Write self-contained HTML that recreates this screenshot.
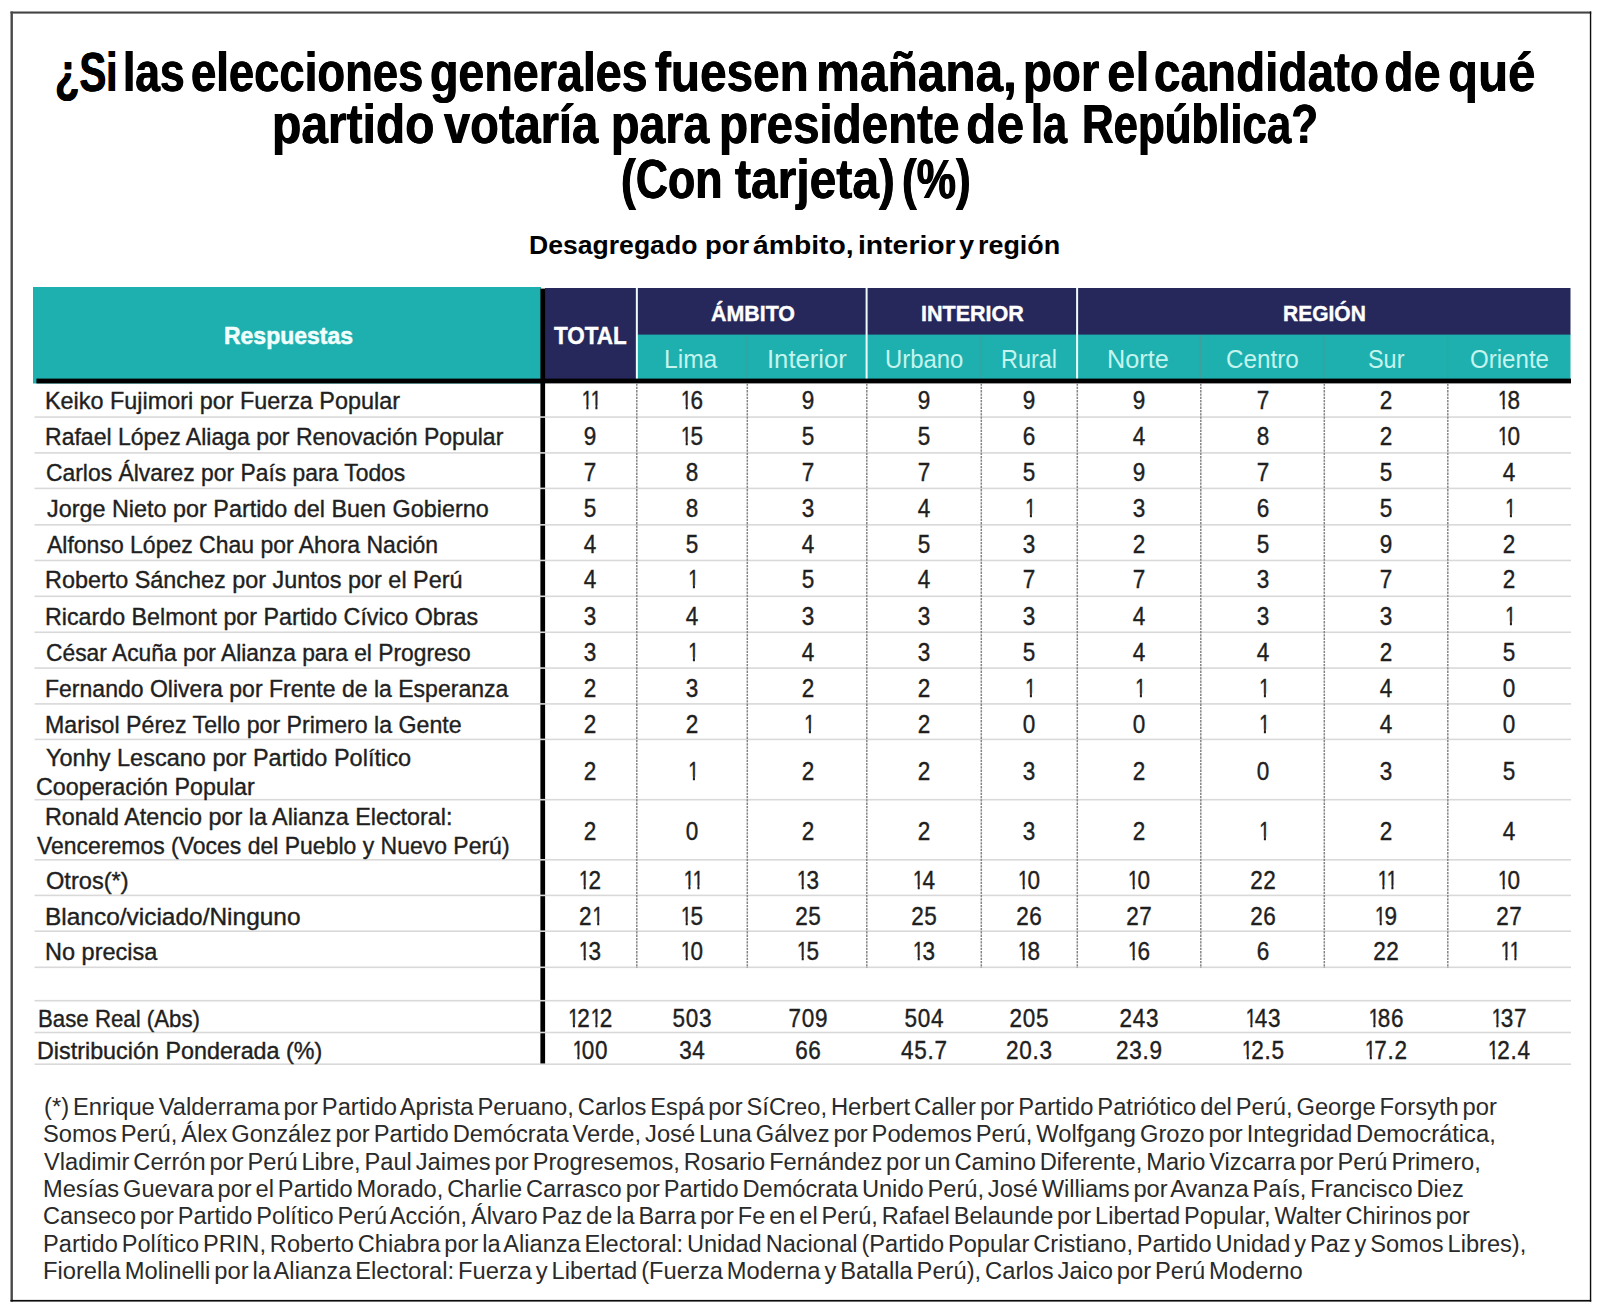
<!DOCTYPE html>
<html lang="es"><head><meta charset="utf-8"><title>Encuesta</title>
<style>
html,body{margin:0;padding:0;background:#fff;}
body{width:1600px;height:1307px;position:relative;overflow:hidden;font-family:"Liberation Sans",sans-serif;}
.t{position:absolute;white-space:nowrap;line-height:1em;transform-origin:0 0;margin:0;}
.r{-webkit-text-stroke:.4px #1f1f1f;}
.n{position:absolute;white-space:nowrap;line-height:1em;font-size:25px;color:#1f1f1f;width:120px;margin-left:-60px;text-align:center;letter-spacing:0.75px;text-indent:0.75px;transform:scaleX(.9);transform-origin:50% 0;-webkit-text-stroke:.4px #1f1f1f;}
.n i{font-style:normal;display:inline-block;clip-path:polygon(0 0,100% 0,100% 71%,62% 71%,62% 100%,44.5% 100%,44.5% 71%,0 71%);transform:scaleX(.85);margin:0 -3.6px 0 -1.4px;}
.b{position:absolute;}
</style></head>
<body>
<svg class="b" style="left:0;top:0" width="1600" height="1307" viewBox="0 0 1600 1307"><rect x="10.5" y="11.5" width="1580.7" height="2.1" fill="#444"/><rect x="10.5" y="11.5" width="2.4" height="1290.1" fill="#484848"/><rect x="1589.85" y="11.5" width="1.4" height="1290.1" fill="#0c0c0c"/><rect x="10.5" y="1299.9" width="1580.7" height="1.7" fill="#0c0c0c"/><rect x="33" y="287" width="508" height="96.5" fill="#1eb0af"/><rect x="545" y="288" width="1025.5" height="47" fill="#26285b"/><rect x="545" y="334" width="91.5" height="45" fill="#26285b"/><rect x="636.5" y="334.6" width="934" height="44.4" fill="#1eb0af"/><rect x="635.85" y="288" width="2" height="91" fill="#eefcfc"/><rect x="865.6" y="288" width="2" height="91" fill="#eefcfc"/><rect x="1076.1" y="288" width="2" height="91" fill="#eefcfc"/><rect x="746.4" y="335.5" width="1.2" height="43.5" fill="#3e9f9d"/><rect x="980.4" y="335.5" width="1.2" height="43.5" fill="#3e9f9d"/><rect x="1199.9" y="335.5" width="1.2" height="43.5" fill="#3e9f9d"/><rect x="1323.4" y="335.5" width="1.2" height="43.5" fill="#3e9f9d"/><rect x="1446.9" y="335.5" width="1.2" height="43.5" fill="#3e9f9d"/><rect x="36.4" y="378.6" width="1534.6" height="4.8" fill="#000"/><rect x="540.4" y="288.6" width="4.7" height="775.8" fill="#000"/><rect x="34.5" y="416.26" width="1536.5" height="1.6" fill="#d9d9d9"/><rect x="34.5" y="452.1" width="1536.5" height="1.6" fill="#d9d9d9"/><rect x="34.5" y="487.6" width="1536.5" height="1.6" fill="#d9d9d9"/><rect x="34.5" y="524.04" width="1536.5" height="1.6" fill="#d9d9d9"/><rect x="34.5" y="559.67" width="1536.5" height="1.6" fill="#d9d9d9"/><rect x="34.5" y="595.5" width="1536.5" height="1.6" fill="#d9d9d9"/><rect x="34.5" y="631.46" width="1536.5" height="1.6" fill="#d9d9d9"/><rect x="34.5" y="667.27" width="1536.5" height="1.6" fill="#d9d9d9"/><rect x="34.5" y="703.1" width="1536.5" height="1.6" fill="#d9d9d9"/><rect x="34.5" y="738.6" width="1536.5" height="1.6" fill="#d9d9d9"/><rect x="34.5" y="798.9" width="1536.5" height="1.6" fill="#d9d9d9"/><rect x="34.5" y="859" width="1536.5" height="1.6" fill="#d9d9d9"/><rect x="34.5" y="894.6" width="1536.5" height="1.6" fill="#d9d9d9"/><rect x="34.5" y="930.4" width="1536.5" height="1.6" fill="#d9d9d9"/><rect x="34.5" y="966.5" width="1536.5" height="1.6" fill="#d9d9d9"/><rect x="34.5" y="999.9" width="1536.5" height="1.6" fill="#d9d9d9"/><rect x="34.5" y="1031.7" width="1536.5" height="1.6" fill="#d9d9d9"/><rect x="34.5" y="1063.4" width="1536.5" height="1.6" fill="#d9d9d9"/><line x1="636.8" y1="383.5" x2="636.8" y2="968" stroke="#858585" stroke-width="1.5" stroke-dasharray="2.3 1"/><line x1="747.3" y1="383.5" x2="747.3" y2="968" stroke="#858585" stroke-width="1.5" stroke-dasharray="2.3 1"/><line x1="866.8" y1="383.5" x2="866.8" y2="968" stroke="#858585" stroke-width="1.5" stroke-dasharray="2.3 1"/><line x1="981.3" y1="383.5" x2="981.3" y2="968" stroke="#858585" stroke-width="1.5" stroke-dasharray="2.3 1"/><line x1="1077.3" y1="383.5" x2="1077.3" y2="968" stroke="#858585" stroke-width="1.5" stroke-dasharray="2.3 1"/><line x1="1200.8" y1="383.5" x2="1200.8" y2="968" stroke="#858585" stroke-width="1.5" stroke-dasharray="2.3 1"/><line x1="1324.3" y1="383.5" x2="1324.3" y2="968" stroke="#858585" stroke-width="1.5" stroke-dasharray="2.3 1"/><line x1="1447.8" y1="383.5" x2="1447.8" y2="968" stroke="#858585" stroke-width="1.5" stroke-dasharray="2.3 1"/></svg>
<header class="title">
<div class="t" style="left:54.77px;top:43.75px;font-size:56px;color:#000;transform:scaleX(0.7153);font-weight:bold;text-shadow:0.72px 0 0 #000,-0.72px 0 0 #000;">¿Si</div>
<div class="t" style="left:123.15px;top:43.75px;font-size:56px;color:#000;transform:scaleX(0.7921);font-weight:bold;text-shadow:0.57px 0 0 #000,-0.57px 0 0 #000;">las</div>
<div class="t" style="left:191.23px;top:43.75px;font-size:56px;color:#000;transform:scaleX(0.8114);font-weight:bold;text-shadow:0.53px 0 0 #000,-0.53px 0 0 #000;">elecciones</div>
<div class="t" style="left:430.09px;top:43.75px;font-size:56px;color:#000;transform:scaleX(0.8321);font-weight:bold;text-shadow:0.49px 0 0 #000,-0.49px 0 0 #000;">generales</div>
<div class="t" style="left:655.43px;top:43.75px;font-size:56px;color:#000;transform:scaleX(0.8520);font-weight:bold;text-shadow:0.45px 0 0 #000,-0.45px 0 0 #000;">fuesen</div>
<div class="t" style="left:816.24px;top:43.75px;font-size:56px;color:#000;transform:scaleX(0.8839);font-weight:bold;text-shadow:0.38px 0 0 #000,-0.38px 0 0 #000;">mañana,</div>
<div class="t" style="left:1023.13px;top:43.75px;font-size:56px;color:#000;transform:scaleX(0.8463);font-weight:bold;text-shadow:0.46px 0 0 #000,-0.46px 0 0 #000;">por</div>
<div class="t" style="left:1107.25px;top:43.75px;font-size:56px;color:#000;transform:scaleX(0.9124);font-weight:bold;text-shadow:0.33px 0 0 #000,-0.33px 0 0 #000;">el</div>
<div class="t" style="left:1153.64px;top:43.75px;font-size:56px;color:#000;transform:scaleX(0.8507);font-weight:bold;text-shadow:0.45px 0 0 #000,-0.45px 0 0 #000;">candidato</div>
<div class="t" style="left:1384.26px;top:43.75px;font-size:56px;color:#000;transform:scaleX(0.8669);font-weight:bold;text-shadow:0.42px 0 0 #000,-0.42px 0 0 #000;">de</div>
<div class="t" style="left:1447.98px;top:43.75px;font-size:56px;color:#000;transform:scaleX(0.8784);font-weight:bold;text-shadow:0.39px 0 0 #000,-0.39px 0 0 #000;">qué</div>
<div class="t" style="left:271.84px;top:96.40px;font-size:56px;color:#000;transform:scaleX(0.8565);font-weight:bold;text-shadow:0.44px 0 0 #000,-0.44px 0 0 #000;">partido</div>
<div class="t" style="left:443.57px;top:96.40px;font-size:56px;color:#000;transform:scaleX(0.8393);font-weight:bold;text-shadow:0.47px 0 0 #000,-0.47px 0 0 #000;">votaría</div>
<div class="t" style="left:610.68px;top:96.40px;font-size:56px;color:#000;transform:scaleX(0.8308);font-weight:bold;text-shadow:0.49px 0 0 #000,-0.49px 0 0 #000;">para</div>
<div class="t" style="left:718.62px;top:96.40px;font-size:56px;color:#000;transform:scaleX(0.8493);font-weight:bold;text-shadow:0.45px 0 0 #000,-0.45px 0 0 #000;">presidente</div>
<div class="t" style="left:965.95px;top:96.40px;font-size:56px;color:#000;transform:scaleX(0.8914);font-weight:bold;text-shadow:0.37px 0 0 #000,-0.37px 0 0 #000;">de</div>
<div class="t" style="left:1031.24px;top:96.40px;font-size:56px;color:#000;transform:scaleX(0.7706);font-weight:bold;text-shadow:0.61px 0 0 #000,-0.61px 0 0 #000;">la</div>
<div class="t" style="left:1081.57px;top:96.40px;font-size:56px;color:#000;transform:scaleX(0.7818);font-weight:bold;text-shadow:0.59px 0 0 #000,-0.59px 0 0 #000;">República?</div>
<div class="t" style="left:620.78px;top:151.30px;font-size:56px;color:#000;transform:scaleX(0.7959);font-weight:bold;text-shadow:0.56px 0 0 #000,-0.56px 0 0 #000;">(Con</div>
<div class="t" style="left:734.91px;top:151.30px;font-size:56px;color:#000;transform:scaleX(0.8567);font-weight:bold;text-shadow:0.44px 0 0 #000,-0.44px 0 0 #000;">tarjeta)</div>
<div class="t" style="left:901.55px;top:151.30px;font-size:56px;color:#000;transform:scaleX(0.7882);font-weight:bold;text-shadow:0.57px 0 0 #000,-0.57px 0 0 #000;">(%)</div>
<div class="t" style="left:529.42px;top:232.50px;font-size:25.5px;color:#000;transform:scaleX(1.0422);font-weight:bold;">Desagregado</div>
<div class="t" style="left:705.44px;top:232.50px;font-size:25.5px;color:#000;transform:scaleX(1.0767);font-weight:bold;">por</div>
<div class="t" style="left:753.08px;top:232.50px;font-size:25.5px;color:#000;transform:scaleX(1.1096);font-weight:bold;">ámbito,</div>
<div class="t" style="left:857.52px;top:232.50px;font-size:25.5px;color:#000;transform:scaleX(1.1112);font-weight:bold;">interior</div>
<div class="t" style="left:959.04px;top:232.50px;font-size:25.5px;color:#000;transform:scaleX(1.0653);font-weight:bold;">y</div>
<div class="t" style="left:978.48px;top:232.50px;font-size:25.5px;color:#000;transform:scaleX(1.0548);font-weight:bold;">región</div>
</header>
<section class="thead">
<div class="t" style="left:223.96px;top:324.75px;font-size:23px;color:#f0fffd;transform:scaleX(0.9989);font-weight:bold;-webkit-text-stroke:.5px #f0fffd;">Respuestas</div>
<div class="t" style="left:553.50px;top:324.60px;font-size:23.5px;color:#ffffff;transform:scaleX(0.9546);font-weight:bold;-webkit-text-stroke:.4px #fff;">TOTAL</div>
<div class="t" style="left:710.72px;top:302.50px;font-size:22.5px;color:#ffffff;transform:scaleX(0.9502);font-weight:bold;-webkit-text-stroke:.4px #fff;">ÁMBITO</div>
<div class="t" style="left:920.56px;top:302.50px;font-size:22.5px;color:#ffffff;transform:scaleX(0.9570);font-weight:bold;-webkit-text-stroke:.4px #fff;">INTERIOR</div>
<div class="t" style="left:1283.10px;top:302.50px;font-size:22.5px;color:#ffffff;transform:scaleX(0.9331);font-weight:bold;-webkit-text-stroke:.4px #fff;">REGIÓN</div>
<div class="t" style="left:664.23px;top:347.00px;font-size:25px;color:#c4f4ee;transform:scaleX(0.9830);">Lima</div>
<div class="t" style="left:766.88px;top:347.00px;font-size:25px;color:#c4f4ee;transform:scaleX(1.0255);">Interior</div>
<div class="t" style="left:885.16px;top:347.00px;font-size:25px;color:#c4f4ee;transform:scaleX(0.9555);">Urbano</div>
<div class="t" style="left:1001.08px;top:347.00px;font-size:25px;color:#c4f4ee;transform:scaleX(0.9372);">Rural</div>
<div class="t" style="left:1107.43px;top:347.00px;font-size:25px;color:#c4f4ee;transform:scaleX(1.0091);">Norte</div>
<div class="t" style="left:1225.77px;top:347.00px;font-size:25px;color:#c4f4ee;transform:scaleX(0.9695);">Centro</div>
<div class="t" style="left:1367.69px;top:347.00px;font-size:25px;color:#c4f4ee;transform:scaleX(0.9370);">Sur</div>
<div class="t" style="left:1470.11px;top:347.00px;font-size:25px;color:#c4f4ee;transform:scaleX(0.9631);">Oriente</div>
</section>
<section class="tbody">
<div class="t r" style="left:45.08px;top:388.80px;font-size:24.5px;color:#1f1f1f;transform:scaleX(0.9550);">Keiko Fujimori por Fuerza Popular</div>
<div class="t r" style="left:45.11px;top:424.80px;font-size:24.5px;color:#1f1f1f;transform:scaleX(0.9399);">Rafael López Aliaga por Renovación Popular</div>
<div class="t r" style="left:45.84px;top:460.70px;font-size:24.5px;color:#1f1f1f;transform:scaleX(0.9333);">Carlos Álvarez por País para Todos</div>
<div class="t r" style="left:46.63px;top:496.80px;font-size:24.5px;color:#1f1f1f;transform:scaleX(0.9540);">Jorge Nieto por Partido del Buen Gobierno</div>
<div class="t r" style="left:46.96px;top:532.50px;font-size:24.5px;color:#1f1f1f;transform:scaleX(0.9383);">Alfonso López Chau por Ahora Nación</div>
<div class="t r" style="left:45.08px;top:568.20px;font-size:24.5px;color:#1f1f1f;transform:scaleX(0.9550);">Roberto Sánchez por Juntos por el Perú</div>
<div class="t r" style="left:45.09px;top:604.60px;font-size:24.5px;color:#1f1f1f;transform:scaleX(0.9493);">Ricardo Belmont por Partido Cívico Obras</div>
<div class="t r" style="left:45.84px;top:640.60px;font-size:24.5px;color:#1f1f1f;transform:scaleX(0.9311);">César Acuña por Alianza para el Progreso</div>
<div class="t r" style="left:45.11px;top:676.70px;font-size:24.5px;color:#1f1f1f;transform:scaleX(0.9398);">Fernando Olivera por Frente de la Esperanza</div>
<div class="t r" style="left:45.10px;top:712.70px;font-size:24.5px;color:#1f1f1f;transform:scaleX(0.9453);">Marisol Pérez Tello por Primero la Gente</div>
<div class="t r" style="left:46.48px;top:745.75px;font-size:24.5px;color:#1f1f1f;transform:scaleX(0.9594);">Yonhy Lescano por Partido Político</div>
<div class="t r" style="left:36.22px;top:774.50px;font-size:24.5px;color:#1f1f1f;transform:scaleX(0.9504);">Cooperación Popular</div>
<div class="t r" style="left:45.09px;top:805.00px;font-size:24.5px;color:#1f1f1f;transform:scaleX(0.9528);">Ronald Atencio por la Alianza Electoral:</div>
<div class="t r" style="left:37.30px;top:834.25px;font-size:24.5px;color:#1f1f1f;transform:scaleX(0.9378);">Venceremos (Voces del Pueblo y Nuevo Perú)</div>
<div class="t r" style="left:45.88px;top:868.80px;font-size:24.5px;color:#1f1f1f;transform:scaleX(0.9630);">Otros(*)</div>
<div class="t r" style="left:44.99px;top:904.80px;font-size:24.5px;color:#1f1f1f;transform:scaleX(0.9980);">Blanco/viciado/Ninguno</div>
<div class="t r" style="left:45.37px;top:940.20px;font-size:24.5px;color:#1f1f1f;transform:scaleX(0.9592);">No precisa</div>
<div class="t r" style="left:37.57px;top:1006.90px;font-size:24.5px;color:#1f1f1f;transform:scaleX(0.9082);">Base Real (Abs)</div>
<div class="t r" style="left:37.49px;top:1038.70px;font-size:24.5px;color:#1f1f1f;transform:scaleX(0.9525);">Distribución Ponderada (%)</div>
<div class="n" style="left:589.6px;top:387.80px"><i>1</i><i>1</i></div>
<div class="n" style="left:692.0px;top:387.80px"><i>1</i>6</div>
<div class="n" style="left:807.5px;top:387.80px">9</div>
<div class="n" style="left:924.4px;top:387.80px">9</div>
<div class="n" style="left:1029.4px;top:387.80px">9</div>
<div class="n" style="left:1138.8px;top:387.80px">9</div>
<div class="n" style="left:1262.5px;top:387.80px">7</div>
<div class="n" style="left:1386.0px;top:387.80px">2</div>
<div class="n" style="left:1509.1px;top:387.80px"><i>1</i>8</div>
<div class="n" style="left:589.6px;top:423.80px">9</div>
<div class="n" style="left:692.0px;top:423.80px"><i>1</i>5</div>
<div class="n" style="left:807.5px;top:423.80px">5</div>
<div class="n" style="left:924.4px;top:423.80px">5</div>
<div class="n" style="left:1029.4px;top:423.80px">6</div>
<div class="n" style="left:1138.8px;top:423.80px">4</div>
<div class="n" style="left:1262.5px;top:423.80px">8</div>
<div class="n" style="left:1386.0px;top:423.80px">2</div>
<div class="n" style="left:1509.1px;top:423.80px"><i>1</i>0</div>
<div class="n" style="left:589.6px;top:459.70px">7</div>
<div class="n" style="left:692.0px;top:459.70px">8</div>
<div class="n" style="left:807.5px;top:459.70px">7</div>
<div class="n" style="left:924.4px;top:459.70px">7</div>
<div class="n" style="left:1029.4px;top:459.70px">5</div>
<div class="n" style="left:1138.8px;top:459.70px">9</div>
<div class="n" style="left:1262.5px;top:459.70px">7</div>
<div class="n" style="left:1386.0px;top:459.70px">5</div>
<div class="n" style="left:1509.1px;top:459.70px">4</div>
<div class="n" style="left:589.6px;top:495.80px">5</div>
<div class="n" style="left:692.0px;top:495.80px">8</div>
<div class="n" style="left:807.5px;top:495.80px">3</div>
<div class="n" style="left:924.4px;top:495.80px">4</div>
<div class="n" style="left:1029.4px;top:495.80px"><i>1</i></div>
<div class="n" style="left:1138.8px;top:495.80px">3</div>
<div class="n" style="left:1262.5px;top:495.80px">6</div>
<div class="n" style="left:1386.0px;top:495.80px">5</div>
<div class="n" style="left:1509.1px;top:495.80px"><i>1</i></div>
<div class="n" style="left:589.6px;top:531.50px">4</div>
<div class="n" style="left:692.0px;top:531.50px">5</div>
<div class="n" style="left:807.5px;top:531.50px">4</div>
<div class="n" style="left:924.4px;top:531.50px">5</div>
<div class="n" style="left:1029.4px;top:531.50px">3</div>
<div class="n" style="left:1138.8px;top:531.50px">2</div>
<div class="n" style="left:1262.5px;top:531.50px">5</div>
<div class="n" style="left:1386.0px;top:531.50px">9</div>
<div class="n" style="left:1509.1px;top:531.50px">2</div>
<div class="n" style="left:589.6px;top:567.20px">4</div>
<div class="n" style="left:692.0px;top:567.20px"><i>1</i></div>
<div class="n" style="left:807.5px;top:567.20px">5</div>
<div class="n" style="left:924.4px;top:567.20px">4</div>
<div class="n" style="left:1029.4px;top:567.20px">7</div>
<div class="n" style="left:1138.8px;top:567.20px">7</div>
<div class="n" style="left:1262.5px;top:567.20px">3</div>
<div class="n" style="left:1386.0px;top:567.20px">7</div>
<div class="n" style="left:1509.1px;top:567.20px">2</div>
<div class="n" style="left:589.6px;top:603.60px">3</div>
<div class="n" style="left:692.0px;top:603.60px">4</div>
<div class="n" style="left:807.5px;top:603.60px">3</div>
<div class="n" style="left:924.4px;top:603.60px">3</div>
<div class="n" style="left:1029.4px;top:603.60px">3</div>
<div class="n" style="left:1138.8px;top:603.60px">4</div>
<div class="n" style="left:1262.5px;top:603.60px">3</div>
<div class="n" style="left:1386.0px;top:603.60px">3</div>
<div class="n" style="left:1509.1px;top:603.60px"><i>1</i></div>
<div class="n" style="left:589.6px;top:639.60px">3</div>
<div class="n" style="left:692.0px;top:639.60px"><i>1</i></div>
<div class="n" style="left:807.5px;top:639.60px">4</div>
<div class="n" style="left:924.4px;top:639.60px">3</div>
<div class="n" style="left:1029.4px;top:639.60px">5</div>
<div class="n" style="left:1138.8px;top:639.60px">4</div>
<div class="n" style="left:1262.5px;top:639.60px">4</div>
<div class="n" style="left:1386.0px;top:639.60px">2</div>
<div class="n" style="left:1509.1px;top:639.60px">5</div>
<div class="n" style="left:589.6px;top:675.70px">2</div>
<div class="n" style="left:692.0px;top:675.70px">3</div>
<div class="n" style="left:807.5px;top:675.70px">2</div>
<div class="n" style="left:924.4px;top:675.70px">2</div>
<div class="n" style="left:1029.4px;top:675.70px"><i>1</i></div>
<div class="n" style="left:1138.8px;top:675.70px"><i>1</i></div>
<div class="n" style="left:1262.5px;top:675.70px"><i>1</i></div>
<div class="n" style="left:1386.0px;top:675.70px">4</div>
<div class="n" style="left:1509.1px;top:675.70px">0</div>
<div class="n" style="left:589.6px;top:711.70px">2</div>
<div class="n" style="left:692.0px;top:711.70px">2</div>
<div class="n" style="left:807.5px;top:711.70px"><i>1</i></div>
<div class="n" style="left:924.4px;top:711.70px">2</div>
<div class="n" style="left:1029.4px;top:711.70px">0</div>
<div class="n" style="left:1138.8px;top:711.70px">0</div>
<div class="n" style="left:1262.5px;top:711.70px"><i>1</i></div>
<div class="n" style="left:1386.0px;top:711.70px">4</div>
<div class="n" style="left:1509.1px;top:711.70px">0</div>
<div class="n" style="left:589.6px;top:759.00px">2</div>
<div class="n" style="left:692.0px;top:759.00px"><i>1</i></div>
<div class="n" style="left:807.5px;top:759.00px">2</div>
<div class="n" style="left:924.4px;top:759.00px">2</div>
<div class="n" style="left:1029.4px;top:759.00px">3</div>
<div class="n" style="left:1138.8px;top:759.00px">2</div>
<div class="n" style="left:1262.5px;top:759.00px">0</div>
<div class="n" style="left:1386.0px;top:759.00px">3</div>
<div class="n" style="left:1509.1px;top:759.00px">5</div>
<div class="n" style="left:589.6px;top:818.90px">2</div>
<div class="n" style="left:692.0px;top:818.90px">0</div>
<div class="n" style="left:807.5px;top:818.90px">2</div>
<div class="n" style="left:924.4px;top:818.90px">2</div>
<div class="n" style="left:1029.4px;top:818.90px">3</div>
<div class="n" style="left:1138.8px;top:818.90px">2</div>
<div class="n" style="left:1262.5px;top:818.90px"><i>1</i></div>
<div class="n" style="left:1386.0px;top:818.90px">2</div>
<div class="n" style="left:1509.1px;top:818.90px">4</div>
<div class="n" style="left:589.6px;top:867.80px"><i>1</i>2</div>
<div class="n" style="left:692.0px;top:867.80px"><i>1</i><i>1</i></div>
<div class="n" style="left:807.5px;top:867.80px"><i>1</i>3</div>
<div class="n" style="left:924.4px;top:867.80px"><i>1</i>4</div>
<div class="n" style="left:1029.4px;top:867.80px"><i>1</i>0</div>
<div class="n" style="left:1138.8px;top:867.80px"><i>1</i>0</div>
<div class="n" style="left:1262.5px;top:867.80px">22</div>
<div class="n" style="left:1386.0px;top:867.80px"><i>1</i><i>1</i></div>
<div class="n" style="left:1509.1px;top:867.80px"><i>1</i>0</div>
<div class="n" style="left:589.6px;top:903.80px">2<i>1</i></div>
<div class="n" style="left:692.0px;top:903.80px"><i>1</i>5</div>
<div class="n" style="left:807.5px;top:903.80px">25</div>
<div class="n" style="left:924.4px;top:903.80px">25</div>
<div class="n" style="left:1029.4px;top:903.80px">26</div>
<div class="n" style="left:1138.8px;top:903.80px">27</div>
<div class="n" style="left:1262.5px;top:903.80px">26</div>
<div class="n" style="left:1386.0px;top:903.80px"><i>1</i>9</div>
<div class="n" style="left:1509.1px;top:903.80px">27</div>
<div class="n" style="left:589.6px;top:939.20px"><i>1</i>3</div>
<div class="n" style="left:692.0px;top:939.20px"><i>1</i>0</div>
<div class="n" style="left:807.5px;top:939.20px"><i>1</i>5</div>
<div class="n" style="left:924.4px;top:939.20px"><i>1</i>3</div>
<div class="n" style="left:1029.4px;top:939.20px"><i>1</i>8</div>
<div class="n" style="left:1138.8px;top:939.20px"><i>1</i>6</div>
<div class="n" style="left:1262.5px;top:939.20px">6</div>
<div class="n" style="left:1386.0px;top:939.20px">22</div>
<div class="n" style="left:1509.1px;top:939.20px"><i>1</i><i>1</i></div>
<div class="n" style="left:589.6px;top:1005.90px"><i>1</i>2<i>1</i>2</div>
<div class="n" style="left:692.0px;top:1005.90px">503</div>
<div class="n" style="left:807.5px;top:1005.90px">709</div>
<div class="n" style="left:924.4px;top:1005.90px">504</div>
<div class="n" style="left:1029.4px;top:1005.90px">205</div>
<div class="n" style="left:1138.8px;top:1005.90px">243</div>
<div class="n" style="left:1262.5px;top:1005.90px"><i>1</i>43</div>
<div class="n" style="left:1386.0px;top:1005.90px"><i>1</i>86</div>
<div class="n" style="left:1509.1px;top:1005.90px"><i>1</i>37</div>
<div class="n" style="left:589.6px;top:1037.70px"><i>1</i>00</div>
<div class="n" style="left:692.0px;top:1037.70px">34</div>
<div class="n" style="left:807.5px;top:1037.70px">66</div>
<div class="n" style="left:924.4px;top:1037.70px">45.7</div>
<div class="n" style="left:1029.4px;top:1037.70px">20.3</div>
<div class="n" style="left:1138.8px;top:1037.70px">23.9</div>
<div class="n" style="left:1262.5px;top:1037.70px"><i>1</i>2.5</div>
<div class="n" style="left:1386.0px;top:1037.70px"><i>1</i>7.2</div>
<div class="n" style="left:1509.1px;top:1037.70px"><i>1</i>2.4</div>
</section>
<footer class="foot">
<div class="t" style="left:43.63px;top:1095.70px;font-size:23px;color:#2a2a2a;transform:scaleX(1.0323);word-spacing:-2.6px;">(*) Enrique Valderrama por Partido Aprista Peruano, Carlos Espá por SíCreo, Herbert Caller por Partido Patriótico del Perú, George Forsyth por</div>
<div class="t" style="left:43.42px;top:1123.10px;font-size:23px;color:#2a2a2a;transform:scaleX(1.0311);word-spacing:-2.6px;">Somos Perú, Álex González por Partido Demócrata Verde, José Luna Gálvez por Podemos Perú, Wolfgang Grozo por Integridad Democrática,</div>
<div class="t" style="left:44.40px;top:1150.50px;font-size:23px;color:#2a2a2a;transform:scaleX(1.0283);word-spacing:-2.6px;">Vladimir Cerrón por Perú Libre, Paul Jaimes por Progresemos, Rosario Fernández por un Camino Diferente, Mario Vizcarra por Perú Primero,</div>
<div class="t" style="left:42.56px;top:1177.90px;font-size:23px;color:#2a2a2a;transform:scaleX(1.0272);word-spacing:-2.6px;">Mesías Guevara por el Partido Morado, Charlie Carrasco por Partido Demócrata Unido Perú, José Williams por Avanza País, Francisco Diez</div>
<div class="t" style="left:43.30px;top:1205.30px;font-size:23px;color:#2a2a2a;transform:scaleX(1.0243);word-spacing:-2.6px;">Canseco por Partido Político Perú Acción, Álvaro Paz de la Barra por Fe en el Perú, Rafael Belaunde por Libertad Popular, Walter Chirinos por</div>
<div class="t" style="left:42.56px;top:1232.70px;font-size:23px;color:#2a2a2a;transform:scaleX(1.0265);word-spacing:-2.6px;">Partido Político PRIN, Roberto Chiabra por la Alianza Electoral: Unidad Nacional (Partido Popular Cristiano, Partido Unidad y Paz y Somos Libres),</div>
<div class="t" style="left:42.55px;top:1260.10px;font-size:23px;color:#2a2a2a;transform:scaleX(1.0314);word-spacing:-2.6px;">Fiorella Molinelli por la Alianza Electoral: Fuerza y Libertad (Fuerza Moderna y Batalla Perú), Carlos Jaico por Perú Moderno</div>
</footer>
</body></html>
